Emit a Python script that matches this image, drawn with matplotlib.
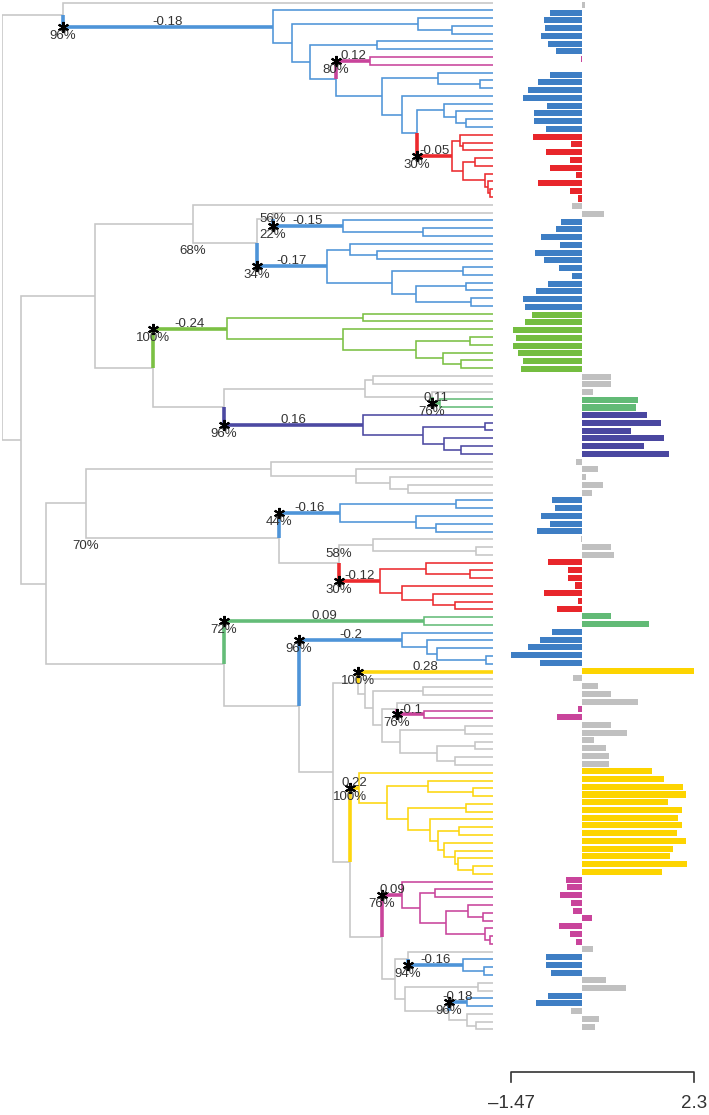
import re
import matplotlib
matplotlib.use("Agg")
import matplotlib.pyplot as plt

plt.rcParams['font.family'] = ['Liberation Sans', 'DejaVu Sans']

# ---------------- data ----------------
# Tree pieces in Newick form; the number after ':' is the node depth measured from the root
# (tree height = 491 units, all tips at full height).
CLADE_TOP = ("(t1,(t2,((t3,(t4,t5):450):416,((t6,t7):375,((t8,t9)M1:368,((t10,(t11,t12):478):436,"
             "(t13,((t14,(t15,(t16,t17):464):454):442,((t18,(t19,t20):461):458,((t21,t22):473,"
             "(t23,(t24,(t25,t26):488):486):483):461)R1:450):415):400):380):334):308):290)C1:271):61")
CLADE_B3 = "((t32,(t33,t34):375):348,((t35,t36):461,((t37,t38):464,(t39,t40):469):414):390)B3:325"
CLADE_G1 = "((t41,t42):361,(t43,((t44,t45):468,(t46,(t47,t48):459):441):414):341)G1:225"
CLADE_P = "(((t49,t50):371,(t51,(t52,t53)G2:438):430):363,(t54,((t55,t56):483,(t57,(t58,t59):459):442):421)P:361):222"
CLADE_N95 = "((t27,((t28,(t29,(t30,t31):421)B2:341)s56:271," + CLADE_B3 + "):255)s68:191,(" + CLADE_G1 + "," + CLADE_P + "):151):93"
CLADE_B4 = "((t65,t66):454,(t67,(t68,t69):434):414)B4:338"
CLADE_R2 = "((t70,(t71,t72):474):371,((t73,(t74,t75):468):424,(t76,(t77,(t78,t79):453):431):400)R2:378)s58:337"
CLADE_N86 = "((t60,(t61,(t62,(t63,t64):406):388):354):269,(" + CLADE_B4 + "," + CLADE_R2 + "):277)s70:84"
CLADE_B5 = "(t82,(t83,(t84,(t85,t86):484):435):425)B5:400"
CLADE_Y1 = ("(t87,(t88,((t89,t90):421,((t91,(t92,t93)M2:422):395,((t94,t95):463,((t96,t97):473,"
            "(t98,t99):453):435):398):380):371):363):356")
CLADE_Y2 = ("(t100,((t101,(t102,t103):471):426,((t104,t105):464,(t106,((t107,t108):457,(t109,(t110,"
            "(t111,(t112,t113):471):456):453):442):436):428):406):385)Y2:357")
CLADE_M3 = "(t114,((t115,t116):433,((t117,(t118,t119):481):466,(t120,(t121,t122):488):483):444):418)M3:400"
CLADE_LOW = ("((t123,(t124,(t125,t126):482)B6:461):406,((t127,t128):476,((t129,t130)B7:465,"
             "(t131,(t132,t133):474):465):447):403):393")
CLADE_N224 = ("((t80,t81)G3:422,(" + CLADE_B5 + ",(" + CLADE_Y1 + ",(" + CLADE_Y2 + ",(" + CLADE_M3 + ","
              + CLADE_LOW + "):380):348):331):297):222")
TREE = "(" + CLADE_TOP + ",(" + CLADE_N95 + ",(" + CLADE_N86 + "," + CLADE_N224 + "):44):19)root:0"
TIP_DEPTH = 491

SHIFT_NODES = ['C1', 'M1', 'R1', 'B2', 'B3', 'G1', 'G2', 'P', 'B4', 'R2', 'G3', 'B5', 't87', 'M2', 'Y2', 'M3', 'B6', 'B7']
SHIFT_GROUP = ['blue', 'magenta', 'red', 'blue', 'blue', 'lgreen', 'green', 'purple', 'blue', 'red', 'green',
               'blue', 'yellow', 'magenta', 'yellow', 'magenta', 'blue', 'blue']
SHIFT_VALUE = ['-0.18', '0.12', '-0.05', '-0.15', '-0.17', '-0.24', '0.11', '0.16', '-0.16', '-0.12', '0.09',
               '-0.2', '0.28', '-0.1', '0.22', '0.09', '-0.16', '-0.18']
SHIFT_SUPPORT = ['96%', '80%', '30%', '22%', '34%', '100%', '76%', '96%', '44%', '30%', '72%', '96%', '100%',
                 '76%', '100%', '76%', '94%', '96%']

SUPPORT_NODES = ['s56', 's68', 's70', 's58']
SUPPORT_TEXT = ['56%', '68%', '70%', '58%']

BAR_VALUES = [0.05,
              -0.67, -0.80, -0.77, -0.86, -0.70, -0.55,
              -0.03, -0.01,
              -0.67, -0.91, -1.11, -1.22, -0.73, -0.99, -0.99, -0.74,
              -1.01, -0.24, -0.74, -0.26, -0.67, -0.14, -0.91, -0.26, -0.08,
              -0.21, 0.45,
              -0.45, -0.55, -0.86,
              -0.47, -0.98, -0.80, -0.49, -0.21, -0.70, -0.96, -1.22, -1.19,
              -1.04, -1.19, -1.43, -1.37, -1.43, -1.33, -1.22, -1.27,
              0.58, 0.58, 0.22,
              1.15, 1.11,
              1.33, 1.62, 1.00, 1.69, 1.26, 1.79,
              -0.14, 0.32, 0.08, 0.43, 0.19,
              -0.62, -0.57, -0.86, -0.67, -0.93,
              -0.02, 0.60, 0.65,
              -0.70, -0.29, -0.29, -0.16, -0.80, -0.10, -0.53,
              0.60, 1.37,
              -0.62, -0.88, -1.13, -1.47, -0.88,
              2.30,
              -0.19, 0.32, 0.58, 1.15,
              -0.10, -0.53,
              0.58, 0.91, 0.24, 0.48, 0.54, 0.54,
              1.43, 1.69, 2.08, 2.13, 1.77, 2.05, 1.98, 2.05, 1.95, 2.13, 1.87, 1.80, 2.16, 1.64,
              -0.34, -0.31, -0.47, -0.24, -0.19, 0.19, -0.49, -0.26, -0.14,
              0.22,
              -0.74, -0.74, -0.65,
              0.49, 0.89,
              -0.70, -0.96,
              -0.23, 0.34, 0.26]

# ---------------- styles ----------------
TREE_COL = {'grey': '#c6c6c6', 'blue': '#4e94d8', 'magenta': '#c9449b', 'red': '#ec2a2e',
            'lgreen': '#7bc043', 'green': '#64bc78', 'purple': '#4c49a2', 'yellow': '#fdd60e'}
BAR_COL = {'grey': '#c0c0c0', 'blue': '#3e7ec4', 'magenta': '#c9449b', 'red': '#e8262b',
           'lgreen': '#74bd40', 'green': '#62ba76', 'purple': '#4a47a0', 'yellow': '#fdd400'}
TXT = '#333333'
FS = 9.5


def parse(s):
    pos = 0

    def node():
        nonlocal pos
        if s[pos] == '(':
            pos += 1
            kids = [node()]
            while s[pos] == ',':
                pos += 1
                kids.append(node())
            assert s[pos] == ')'
            pos += 1
            m = re.match(r'([A-Za-z0-9_]*):([0-9.]+)', s[pos:])
            pos += m.end()
            return {'name': m.group(1), 'depth': float(m.group(2)), 'kids': kids}
        m = re.match(r'[A-Za-z0-9_]+', s[pos:])
        pos += m.end()
        return {'name': m.group(0), 'depth': float(TIP_DEPTH), 'kids': []}
    return node()


root = parse(TREE)
shift_idx = {n: i for i, n in enumerate(SHIFT_NODES)}
tips = []


def layout(nd, parent, col):
    nd['parent'] = parent
    if nd['name'] in shift_idx:
        col = SHIFT_GROUP[shift_idx[nd['name']]]
    nd['color'] = col
    if not nd['kids']:
        nd['y'] = len(tips)
        tips.append(nd)
    else:
        for k in nd['kids']:
            layout(k, nd, col)
        nd['y'] = (nd['kids'][0]['y'] + nd['kids'][-1]['y']) / 2.0


layout(root, None, 'grey')
N = len(tips)
assert N == len(BAR_VALUES), N

W, H = 709, 1115
fig = plt.figure(figsize=(W / 100, H / 100), dpi=100)


def axes_px(x0, x1, y_first, y_last):
    s = (y_last - y_first) / (N - 1)
    top = y_first - 0.5 * s
    bot = y_last + 0.5 * s
    a = fig.add_axes([x0 / W, 1 - bot / H, (x1 - x0) / W, (bot - top) / H])
    a.set_ylim(N - 0.5, -0.5)
    a.axis('off')
    return a


# ---------------- tree ----------------
ax = axes_px(2, 2 + TIP_DEPTH, 2.5, 1029.5)
ax.set_xlim(0, TIP_DEPTH)
nodes_by_name = {}


def draw(nd):
    nodes_by_name[nd['name']] = nd
    for k in nd['kids']:
        thick = k['name'] in shift_idx
        ax.plot([nd['depth'], nd['depth'], k['depth']], [nd['y'], k['y'], k['y']],
                color=TREE_COL[k['color']], lw=2.6 if thick else 1.15,
                solid_joinstyle='miter', solid_capstyle='butt', zorder=3 if thick else 2)
        draw(k)


draw(root)

for i, name in enumerate(SHIFT_NODES):
    nd = nodes_by_name[name]
    p = nd['parent']
    ax.plot(p['depth'], nd['y'], marker=(6, 2, 0), ms=8, mew=1.5, color='black', zorder=5)
    ax.annotate(SHIFT_SUPPORT[i], (p['depth'], nd['y']), xytext=(0, -6.5), textcoords='offset points',
                ha='center', va='center', fontsize=FS, color=TXT, zorder=6)
    ax.annotate(SHIFT_VALUE[i], ((p['depth'] + nd['depth']) / 2, nd['y']), xytext=(0, 3.5),
                textcoords='offset points', ha='center', va='center', fontsize=FS, color=TXT, zorder=6)

for name, txt in zip(SUPPORT_NODES, SUPPORT_TEXT):
    nd = nodes_by_name[name]
    if name == 's56':
        y, dy = nd['y'], 0
    elif name == 's58':
        y, dy = nd['kids'][0]['y'], -6
    else:
        y, dy = nd['kids'][-1]['y'], -6
    ax.annotate(txt, (nd['depth'], y), xytext=(0, dy), textcoords='offset points',
                ha='center', va='center', fontsize=FS, color=TXT, zorder=6)

# ---------------- bars ----------------
vmin, vmax = min(BAR_VALUES), max(BAR_VALUES)
px_min, px_max = 511, 694
upp = (vmax - vmin) / (px_max - px_min)
bx0, bx1 = 495, 709
xl = (vmin - (px_min - bx0) * upp, vmax + (bx1 - px_max) * upp)

axb = axes_px(bx0, bx1, 5.0, 1026.7)
axb.set_xlim(*xl)
axb.barh(range(N), BAR_VALUES, height=0.78, color=[BAR_COL[t['color']] for t in tips], linewidth=0)

# ---------------- scale bar ----------------
axs = fig.add_axes([bx0 / W, 0, (bx1 - bx0) / W, 65 / H])
axs.set_xlim(*xl)
axs.set_ylim(65, 0)
axs.axis('off')
axs.plot([vmin, vmin, vmax, vmax], [32, 22, 22, 32], color=TXT, lw=1.2)
axs.text(vmin, 54, '\u2013' + ('%g' % abs(vmin)), ha='center', va='center', fontsize=13.5, color=TXT)
axs.text(vmax, 54, '%g' % vmax, ha='center', va='center', fontsize=13.5, color=TXT)

fig.savefig('out.png', dpi=100)
